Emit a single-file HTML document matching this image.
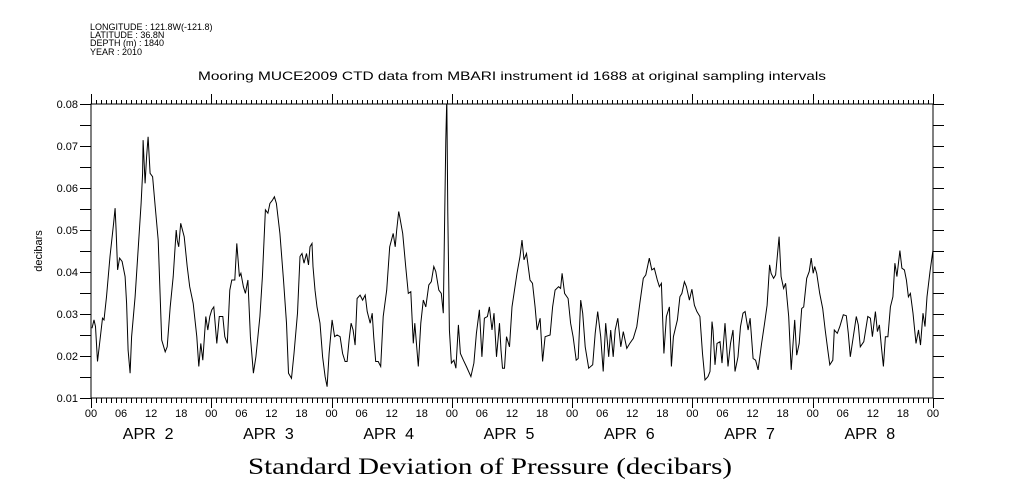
<!DOCTYPE html>
<html><head><meta charset="utf-8"><style>
html,body{margin:0;padding:0;background:#fff;}
svg{display:block;}
text{font-family:"Liberation Sans",sans-serif;fill:#000;}
</style></head><body>
<svg id="chart" width="1009" height="504" viewBox="0 0 1009 504" xmlns="http://www.w3.org/2000/svg">
<g font-size="9">
<text x="90" y="30">LONGITUDE : 121.8W(-121.8)</text>
<text x="90" y="38">LATITUDE : 36.8N</text>
<text x="90" y="46">DEPTH (m) : 1840</text>
<text x="90" y="55">YEAR : 2010</text>
</g>
<text x="512" y="80" font-size="12" text-anchor="middle" textLength="628" lengthAdjust="spacingAndGlyphs">Mooring MUCE2009 CTD data from MBARI instrument id 1688 at original sampling intervals</text>
<text x="490" y="474" font-size="23" text-anchor="middle" textLength="484" lengthAdjust="spacingAndGlyphs" style="font-family:'Liberation Serif',serif">Standard Deviation of Pressure (decibars)</text>
<text transform="translate(42,251) rotate(-90)" font-size="11" text-anchor="middle">decibars</text>
<g id="axes"></g>
<g id="series"></g>
</svg>
<script>
const hours=[0.2,0.6,0.9,1.3,1.8,2.3,2.6,3.1,3.8,4.5,4.8,5.0,5.3,5.7,6.2,6.8,7.1,7.4,7.8,8.1,8.8,9.4,10.0,10.3,10.4,10.8,11.1,11.4,11.8,12.3,12.8,13.4,14.1,14.8,15.2,15.8,16.4,17.0,17.2,17.5,17.9,18.6,19.2,19.7,20.4,21.1,21.5,21.9,22.3,22.9,23.3,23.7,24.1,24.5,25.1,25.6,26.3,26.7,27.2,27.7,28.1,28.7,29.1,29.6,29.9,30.4,30.8,31.3,31.8,32.4,32.9,33.7,34.2,34.8,35.3,35.7,36.2,36.6,37.0,37.7,38.4,39.0,39.4,40.0,40.5,41.2,41.7,42.1,42.5,43.0,43.4,43.7,44.1,44.3,44.7,45.1,45.7,46.2,46.7,47.1,47.5,48.1,48.6,49.1,49.7,50.2,50.7,51.1,51.5,51.9,52.3,52.7,53.1,53.7,54.2,54.7,55.1,55.7,56.1,56.4,56.8,57.3,
57.8,58.3,59.0,59.6,60.3,60.7,61.0,61.4,61.6,62.2,62.8,63.3,63.8,64.3,64.6,65.3,65.8,66.3,66.8,67.4,67.9,68.4,68.8,69.4,69.9,70.3,70.6,70.8,71.0,71.2,71.5,71.9,72.4,72.8,73.3,73.7,74.3,74.9,75.8,76.4,76.9,77.5,78.0,78.5,79.1,79.5,80.0,80.4,80.9,81.5,81.8,82.1,82.5,82.9,83.5,84.0,84.5,85.0,85.6,86.0,86.4,86.9,87.6,88.1,88.6,89.0,89.6,90.1,90.6,91.6,92.1,92.6,93.3,93.7,94.0,94.5,95.2,95.7,96.2,96.8,97.2,97.7,98.1,98.6,99.3,100.1,100.6,101.1,101.7,102.2,102.7,103.3,103.7,104.2,104.6,105.1,105.7,106.2,106.9,107.5,108.2,108.9,109.5,110.2,110.7,111.4,111.9,112.4,113.0,113.4,113.8,114.3,114.8,115.4,
115.8,116.2,116.6,117.0,117.5,117.9,118.4,118.8,119.4,119.9,120.4,120.9,121.5,122.0,122.5,123.1,123.5,123.9,124.1,124.5,124.9,125.5,125.9,126.5,127.1,127.6,128.1,128.5,129.1,129.6,130.1,130.5,131.1,131.5,132.1,132.6,133.1,133.8,134.4,134.9,135.4,135.7,136.2,136.6,137.3,137.7,138.2,138.6,139.2,139.7,140.4,140.8,141.3,141.8,142.2,142.8,143.3,143.7,144.1,144.4,144.8,145.4,146.0,146.5,147.0,147.4,148.0,148.3,148.9,149.4,150.1,150.7,151.1,151.5,152.1,152.7,153.1,153.5,154.2,155.0,155.5,155.9,156.5,156.9,157.3,157.7,158.1,158.5,159.0,159.5,160.0,160.4,160.8,161.4,161.8,162.3,162.7,163.1,163.5,164.0,164.6,165.1,165.5,166.0,166.4,166.8,167.4,167.9,168.0];
const values=[26.6,28.6,27.0,18.7,23.8,29.0,28.6,34.1,43.7,51.6,55.2,50.0,40.5,43.3,42.5,38.9,32.5,21.4,15.9,24.6,34.1,45.2,56.3,63.5,71.4,61.1,67.5,72.2,63.5,62.7,55.6,47.6,23.8,21.0,22.2,31.7,38.9,50.0,47.6,46.0,51.6,48.4,41.3,36.5,32.5,24.6,17.5,23.0,19.0,29.4,26.2,29.4,31.0,31.7,23.0,29.4,29.4,24.6,23.0,35.7,38.1,38.1,46.8,38.9,39.7,36.5,34.9,38.1,24.6,15.9,19.8,29.4,38.9,54.8,54.0,56.3,57.1,57.9,56.3,49.2,38.1,27.8,15.9,14.7,20.6,30.2,43.7,44.4,42.1,44.4,41.7,46.0,46.8,41.3,35.7,31.7,27.8,19.8,15.1,12.7,20.6,28.6,24.6,25.0,24.6,20.6,18.7,18.7,23.8,27.8,26.2,22.6,33.7,34.5,33.3,34.5,30.6,27.8,30.2,24.6,18.7,18.7,
17.5,29.4,35.7,46.0,49.2,46.0,50.0,54.4,53.2,49.2,41.3,34.9,35.3,23.0,27.8,17.5,27.8,33.3,31.7,36.9,37.7,41.3,40.1,35.7,34.9,30.2,55.2,71.4,85,54.0,26.2,18.3,19.0,17.1,27.4,20.6,19.0,17.5,15.1,18.3,25.4,31.0,19.8,29.0,29.4,31.7,26.2,30.2,19.8,27.8,21.4,17.1,17.1,24.6,22.2,31.7,35.7,39.7,43.7,47.6,42.9,44.4,38.1,37.3,31.7,26.2,29.0,18.7,24.6,25.0,31.7,35.7,36.5,36.1,39.7,34.9,33.7,27.8,24.6,19.0,19.4,33.3,30.2,22.2,17.1,17.9,25.4,30.6,24.6,16.3,27.8,19.8,26.2,19.8,26.2,29.0,22.2,25.8,21.8,23.0,24.2,27.0,32.5,38.5,39.3,43.3,40.5,40.9,38.1,36.5,37.3,20.6,29.4,31.7,
17.5,24.6,26.6,28.6,34.1,34.9,37.7,36.5,33.3,35.9,32.1,30.6,29.4,20.6,14.3,15.1,16.3,28.2,26.2,17.9,23.0,23.4,18.3,27.8,17.5,23.0,26.2,16.3,19.8,27.0,30.2,30.6,26.2,29.0,19.4,19.0,16.7,23.0,27.8,32.1,41.7,39.7,38.5,39.3,48.4,38.9,36.1,37.3,29.4,16.7,28.6,20.2,23.0,31.3,31.7,38.5,40.1,43.3,39.7,41.3,39.7,34.9,31.3,26.2,21.4,17.9,19.0,26.2,25.4,27.0,29.8,29.6,25.4,19.8,24.6,29.4,27.4,22.2,23.4,29.4,29.0,24.6,30.6,25.8,27.4,22.2,17.5,24.6,24.6,31.7,34.1,42.1,38.9,45.1,40.9,40.5,38.1,34.1,34.9,30.2,23.0,26.2,22.6,30.2,27.0,34.1,40.1,44.4,45.2];
const yTicks=[0.01,0.02,0.03,0.04,0.05,0.06,0.07,0.08];
const yTickLabels=["0.01","0.02","0.03","0.04","0.05","0.06","0.07","0.08"];
const hourTickLabels=["00","06","12","18"];
const dayLabels=["APR  2","APR  3","APR  4","APR  5","APR  6","APR  7","APR  8"];

const X0=91,X1=933,Y0=104,Y1=398,HMAX=168,VMIN=0.01,VMAX=0.08;
const xs=h=>X0+(X1-X0)*h/HMAX;
const ys=v=>Y1-(Y1-Y0)*(v-VMIN)/(VMAX-VMIN);
const NS="http://www.w3.org/2000/svg";
const axes=document.getElementById('axes');
function mk(tag,attrs,parent){const e=document.createElementNS(NS,tag);for(const k in attrs)e.setAttribute(k,attrs[k]);parent.appendChild(e);return e;}
const frame=mk('rect',{x:X0,y:Y0,width:X1-X0,height:Y1-Y0,fill:'none',stroke:'#000','stroke-width':1,'shape-rendering':'crispEdges'},axes);


let d='';
for(let h=0;h<=HMAX;h++){const x=Math.round(xs(h))+0.5;const major=h%24===0;
 d+=`M${x} ${Y0}V${Y0-(major?10:4)}M${x} ${Y1}V${Y1+(major?10:5)}`;}
for(let i=0;i<=14;i++){const v=VMIN+i*0.005;const y=Math.round(ys(v))+0.5;d+=`M${X0} ${y}H${X0-11}M${X1} ${y}H${X1+11}`;}
const tk=mk('path',{d:d,stroke:'#000','stroke-width':1,fill:'none','shape-rendering':'crispEdges'},axes);


yTicks.forEach((v,i)=>{const t=mk('text',{x:X0-13,y:ys(v)+4,'font-size':11,'text-anchor':'end'},axes);t.textContent=yTickLabels[i];
 
 });
for(let h=0;h<=HMAX;h+=6){const t=mk('text',{x:xs(h),y:417,'font-size':11,'text-anchor':'middle'},axes);t.textContent=hourTickLabels[(h/6)%4];
 
 }
dayLabels.forEach((s,i)=>{const t=mk('text',{x:xs(i*24+12)-3,y:439,'font-size':16,'text-anchor':'middle','xml:space':'preserve'},axes);t.textContent=s;t.style.whiteSpace='pre';
 
 });
const pts=hours.map((h,i)=>xs(h).toFixed(1)+','+Math.max(Y0-6,ys(values[i]/1000)).toFixed(1)).join(' ');
const cp=mk('clipPath',{id:'clip'},axes);mk('rect',{x:X0,y:Y0,width:X1-X0,height:Y1-Y0},cp);
const line=mk('polyline',{points:pts,fill:'none',stroke:'#000','stroke-width':1,'clip-path':'url(#clip)'},document.getElementById('series'));


</script>
</body></html>
